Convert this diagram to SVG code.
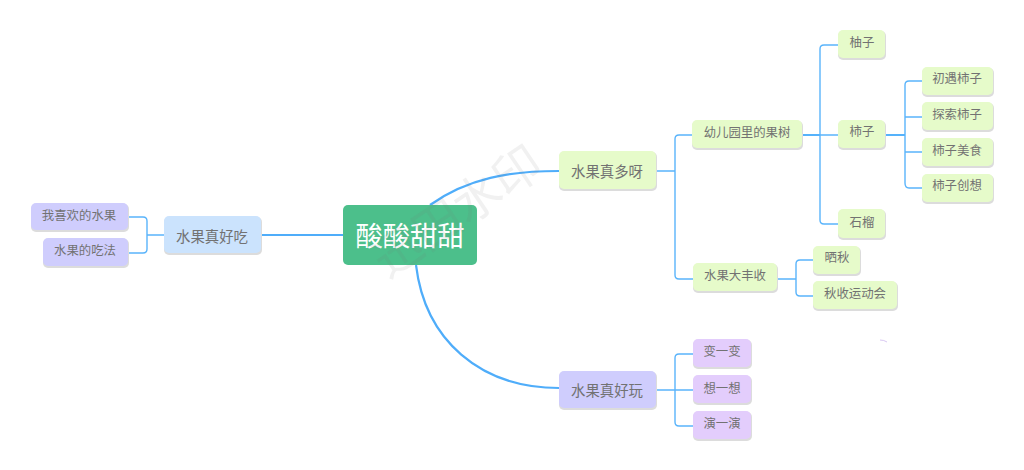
<svg xmlns="http://www.w3.org/2000/svg" width="1024" height="470" viewBox="0 0 1024 470">
<style>
text{font-family:"Noto Sans CJK SC","Liberation Sans",sans-serif;text-anchor:middle;dominant-baseline:central;fill:#727272}
.c{fill:none;stroke:#5ab4fb;stroke-width:1.4}
.m{fill:none;stroke:#55b2fb;stroke-width:2}
.t{fill:none;stroke:#4fadfa;stroke-width:2.2}
.n rect{stroke:none}
.n rect:first-child{fill:#dcdcdc}
.g rect+rect{fill:#e6fbca}
.b rect+rect{fill:#cbe3fd}
.p rect+rect{fill:#cfcdfd}
.v rect+rect{fill:#e3cdfc}
.s text{font-size:12.4px}
.l text{font-size:14.4px}
</style>
<rect width="1024" height="470" fill="#fff"/>
<g id="connectors">
<path class="t" d="M261 235H343"/>
<path class="t" d="M430 205C468 178 510 171 559 171"/>
<path class="t" d="M416 265C425 340 480 388 559 388"/>
<path class="c" d="M656 171H675M692 135H679Q675 135 675 139V275Q675 279 679 279H693"/>
<path class="c" d="M820 135H838M838 45H824Q820 45 820 49V220Q820 224 824 224H838"/>
<path class="m" d="M802 135H820M886 135H905"/>
<path class="c" d="M922 81H909Q905 81 905 85V183Q905 188 909 188H922M905 117H922M905 152H922"/>
<path class="c" d="M777 279H796M813 260H800Q796 260 796 264V292Q796 296 800 296H813"/>
<path class="c" d="M656 390H675M693 354H679Q675 354 675 358V422Q675 426 679 426H693M675 390H693"/>
<path class="c" d="M164 235H147M128 217H143Q147 217 147 221V249Q147 253 143 253H128"/>
<path d="M880 340Q884 340 887 342" fill="none" stroke="#d9c8f2" stroke-width="1"/>
</g>
<g id="root"><rect x="343" y="205" width="134" height="60" rx="5" fill="#4cbf8b"/><text x="410" y="234" font-size="27.3" style="fill:#fff">酸酸甜甜</text></g>
<g id="n-duo" class="n g l"><rect x="559" y="152" width="98" height="39" rx="5"/><rect x="559" y="151" width="97" height="38" rx="5"/><text x="607" y="170">水果真多呀</text></g>
<g id="n-wan" class="n p l"><rect x="559" y="372" width="98" height="38" rx="5"/><rect x="559" y="371" width="97" height="37" rx="5"/><text x="607" y="389">水果真好玩</text></g>
<g id="n-chi" class="n b l"><rect x="164" y="217" width="98" height="38" rx="5"/><rect x="164" y="216" width="97" height="37" rx="5"/><text x="212" y="235">水果真好吃</text></g>
<g id="n-xh" class="n p s"><rect x="31" y="204" width="98" height="28" rx="5"/><rect x="31" y="203" width="97" height="27" rx="5"/><text x="79" y="215">我喜欢的水果</text></g>
<g id="n-cf" class="n p s"><rect x="43" y="239" width="86" height="29" rx="5"/><rect x="43" y="238" width="85" height="28" rx="5"/><text x="85" y="250">水果的吃法</text></g>
<g id="n-gs" class="n g s"><rect x="692" y="121" width="111" height="29" rx="5"/><rect x="692" y="120" width="110" height="28" rx="5"/><text x="747" y="132">幼儿园里的果树</text></g>
<g id="n-dfs" class="n g s"><rect x="693" y="264" width="85" height="29" rx="5"/><rect x="693" y="263" width="84" height="28" rx="5"/><text x="735" y="275">水果大丰收</text></g>
<g id="n-yz" class="n g s"><rect x="838" y="31" width="48" height="29" rx="5"/><rect x="838" y="30" width="47" height="28" rx="5"/><text x="862" y="42">柚子</text></g>
<g id="n-sz" class="n g s"><rect x="838" y="121" width="48" height="29" rx="5"/><rect x="838" y="120" width="47" height="28" rx="5"/><text x="862" y="131">柿子</text></g>
<g id="n-sl" class="n g s"><rect x="838" y="210" width="48" height="30" rx="5"/><rect x="838" y="209" width="47" height="29" rx="5"/><text x="862" y="222">石榴</text></g>
<g id="n-s1" class="n g s"><rect x="922" y="68" width="72" height="29" rx="5"/><rect x="922" y="67" width="71" height="28" rx="5"/><text x="957" y="78">初遇柿子</text></g>
<g id="n-s2" class="n g s"><rect x="922" y="103" width="72" height="29" rx="5"/><rect x="922" y="102" width="71" height="28" rx="5"/><text x="957" y="114">探索柿子</text></g>
<g id="n-s3" class="n g s"><rect x="922" y="139" width="72" height="29" rx="5"/><rect x="922" y="138" width="71" height="28" rx="5"/><text x="957" y="150">柿子美食</text></g>
<g id="n-s4" class="n g s"><rect x="922" y="175" width="72" height="29" rx="5"/><rect x="922" y="174" width="71" height="28" rx="5"/><text x="957" y="185">柿子创想</text></g>
<g id="n-sq" class="n g s"><rect x="813" y="247" width="48" height="29" rx="5"/><rect x="813" y="246" width="47" height="28" rx="5"/><text x="837" y="257">晒秋</text></g>
<g id="n-qs" class="n g s"><rect x="813" y="282" width="85" height="29" rx="5"/><rect x="813" y="281" width="84" height="28" rx="5"/><text x="855" y="293">秋收运动会</text></g>
<g id="n-b1" class="n v s"><rect x="693" y="340" width="59" height="29" rx="5"/><rect x="693" y="339" width="58" height="28" rx="5"/><text x="722" y="351">变一变</text></g>
<g id="n-b2" class="n v s"><rect x="693" y="376" width="59" height="29" rx="5"/><rect x="693" y="375" width="58" height="28" rx="5"/><text x="722" y="388">想一想</text></g>
<g id="n-b3" class="n v s"><rect x="693" y="412" width="59" height="29" rx="5"/><rect x="693" y="411" width="58" height="28" rx="5"/><text x="722" y="423">演一演</text></g>
<text id="watermark" transform="translate(455 208) rotate(-34)" font-size="48" style="fill:#777;fill-opacity:.1">迅田水印</text>
</svg>
